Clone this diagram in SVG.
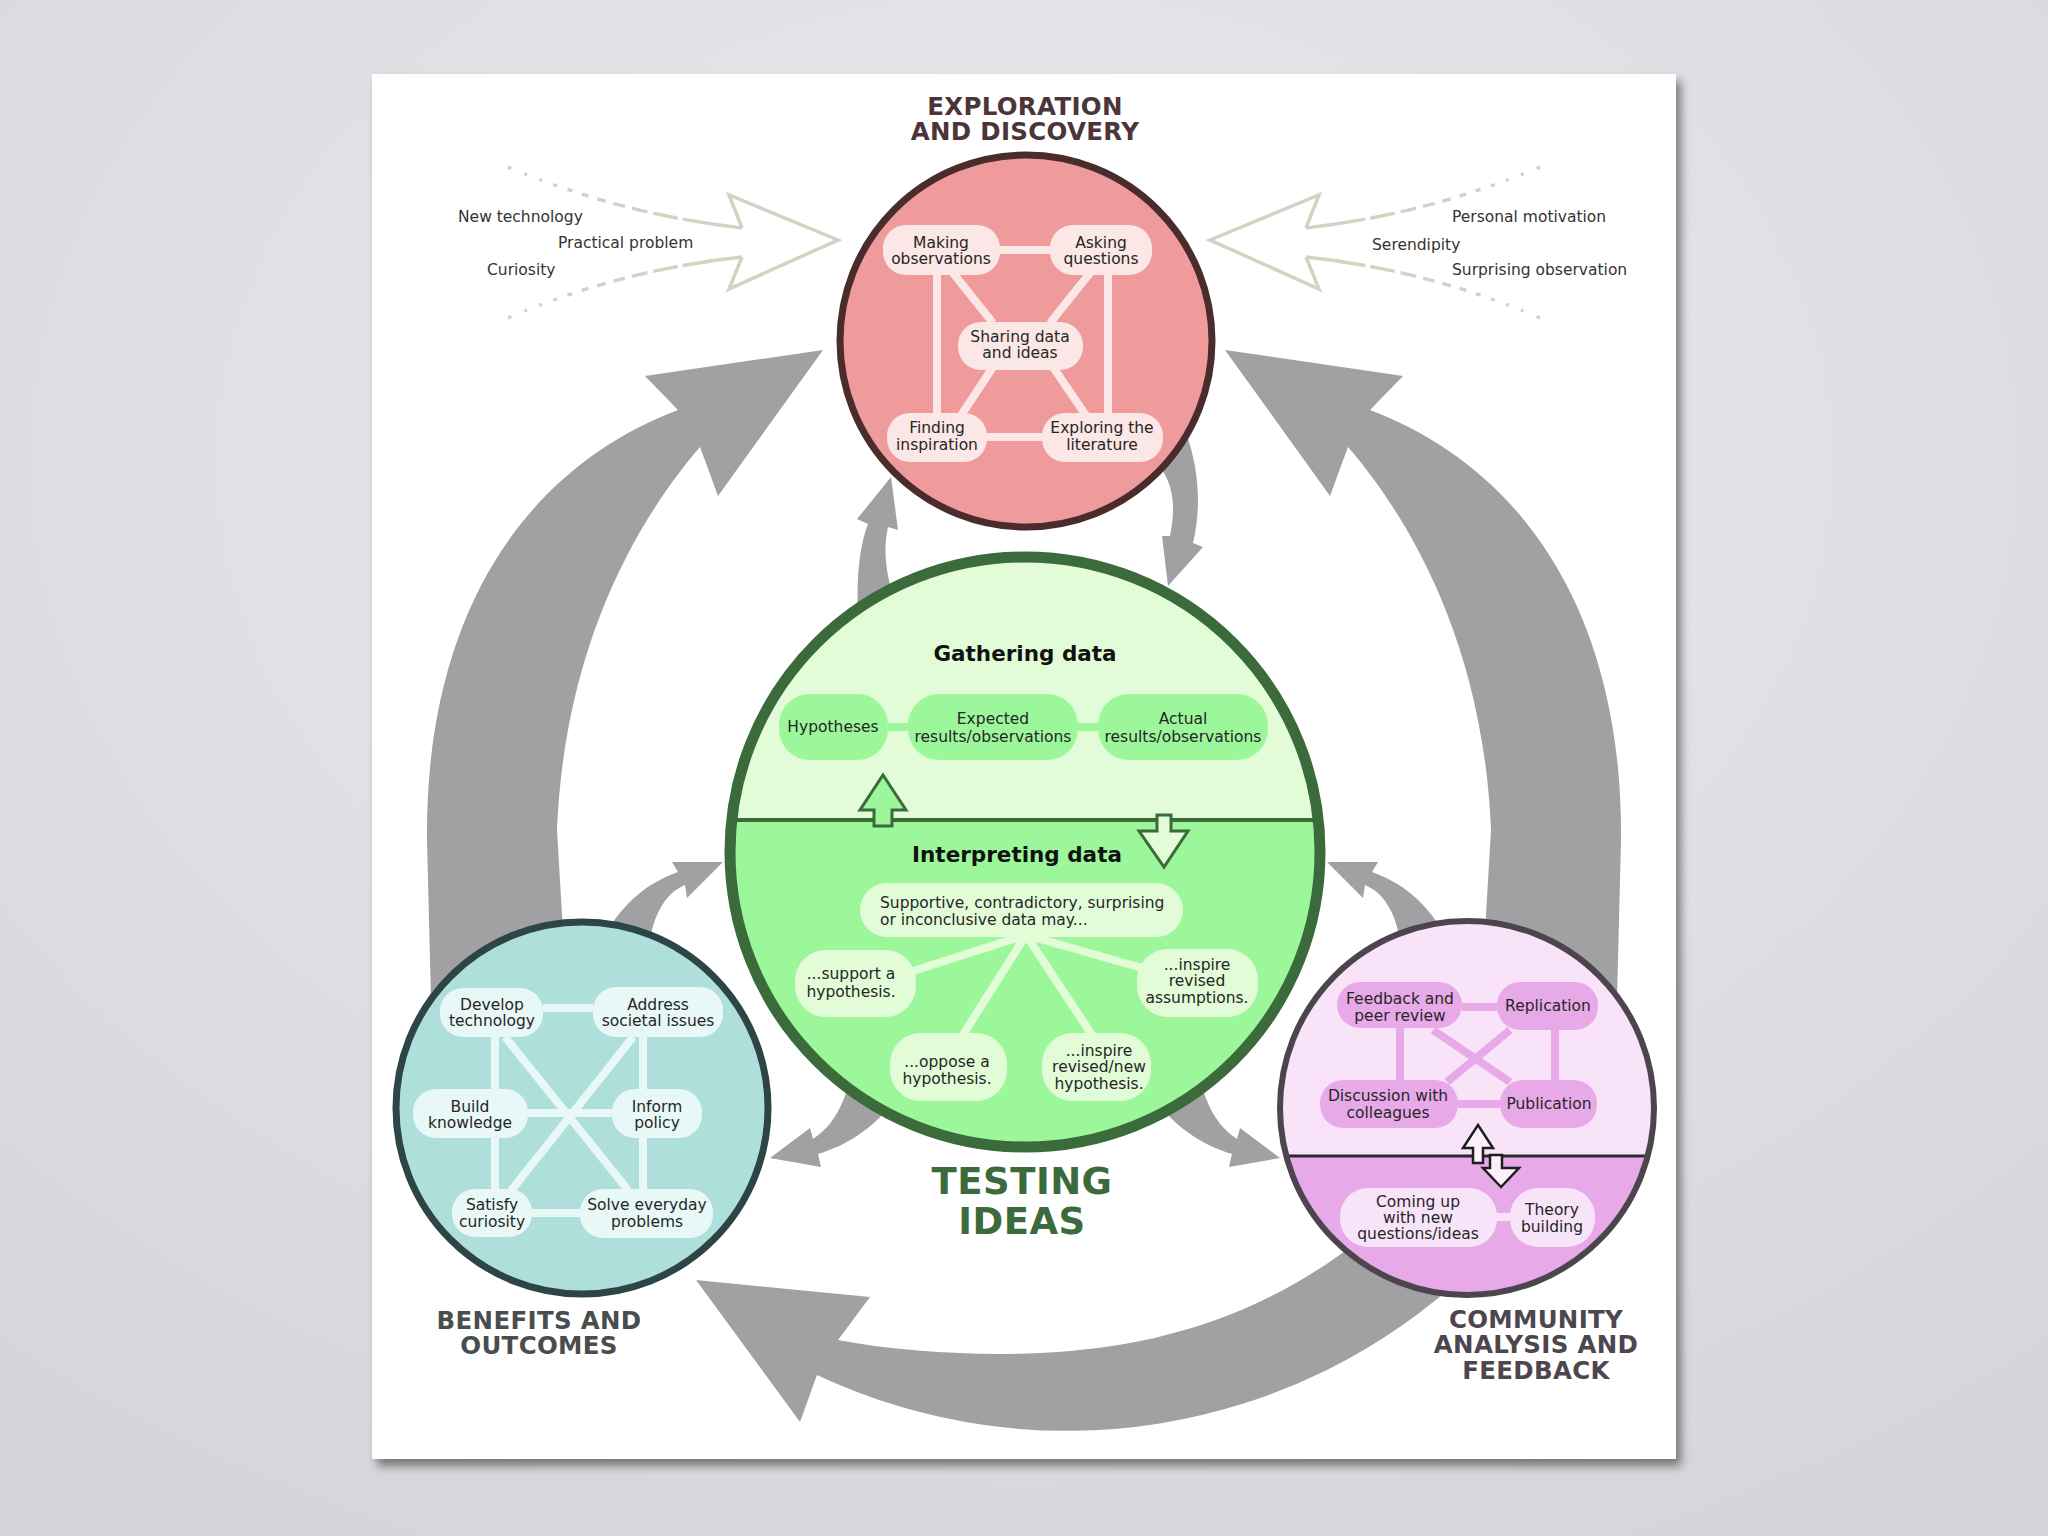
<svg xmlns="http://www.w3.org/2000/svg" width="2048" height="1536" viewBox="0 0 2048 1536">
<defs>
<style>
.t{font-family:"DejaVu Sans",Verdana,sans-serif;font-size:15.5px;fill:#262626;text-anchor:middle}
.tl{font-family:"DejaVu Sans",Verdana,sans-serif;font-size:15.5px;fill:#333;text-anchor:start}
.h{font-family:"DejaVu Sans",Verdana,sans-serif;font-weight:bold;font-size:24.5px;letter-spacing:0.3px;text-anchor:middle}
.sub{font-family:"DejaVu Sans",Verdana,sans-serif;font-weight:bold;font-size:21.5px;fill:#111;text-anchor:middle}
.big{fill:#a1a1a3}
.rp{fill:#fbe7e5}.rl{stroke:#fbe7e5;stroke-width:8;fill:none}
.gp{fill:#9cf79b}.gl{stroke:#9cf79b;stroke-width:8;fill:none}
.gq{fill:#e1fcd7}.gm{stroke:#e1fcd7;stroke-width:8;fill:none}
.tp{fill:#e8f8f6}.tlk{stroke:#e8f8f6;stroke-width:8;fill:none}
.pp{fill:#e8a9e9}.plk{stroke:#e8a9e9;stroke-width:8;fill:none}
.pq{fill:#f8e4f8}.pqk{stroke:#f8e4f8;stroke-width:8;fill:none}
.oa{fill:none;stroke:#d3d3c3;stroke-width:3.5;stroke-linejoin:miter}
</style>
<radialGradient id="bg" cx="50%" cy="30%" r="80%">
<stop offset="0" stop-color="#e9ebee"/><stop offset="1" stop-color="#d3d5d8"/>
</radialGradient>
<filter id="sh" x="-5%" y="-5%" width="110%" height="110%">
<feDropShadow dx="5" dy="7" stdDeviation="5" flood-color="#000" flood-opacity="0.45"/>
</filter>
<clipPath id="gclip"><circle cx="1025" cy="852" r="295"/></clipPath>
<clipPath id="pclip"><circle cx="1467" cy="1108" r="187"/></clipPath>
</defs>

<rect width="2048" height="1536" fill="url(#bg)"/>
<rect x="372" y="74" width="1304" height="1385" fill="#ffffff" filter="url(#sh)"/>

<g id="connectors">
<path class="big" d="M 432 1040 L 427 840 C 425 620 520 470 678 410 L 645 376 L 823 350 L 718 496 L 700 447 C 650 505 565 630 557 830 L 565 965 Z"/>
<path class="big" transform="translate(2048 0) scale(-1 1)" d="M 432 1040 L 427 840 C 425 620 520 470 678 410 L 645 376 L 823 350 L 718 496 L 700 447 C 650 505 565 630 557 830 L 565 965 Z"/>
<path class="big" d="M 1470 1270 A 586 586 0 0 1 817 1375 L 800 1422 L 696 1280 L 870 1297 L 838 1340 C 900 1352 980 1356 1040 1353 C 1140 1348 1250 1325 1360 1240 Z"/>
<path class="big" d="M 858 620 C 856 575 860 545 868 524 L 857 519 L 891 477 L 898 530 L 888 527 C 883 550 885 575 898 610 Z"/>
<path class="big" d="M 1150 455 C 1175 480 1176 505 1170 536 L 1162 536 L 1168 586 L 1203 547 L 1193 543 C 1201 510 1200 470 1185 430 Z"/>
<path class="big" d="M 605 935 C 625 900 650 882 678 872 L 672 862 L 723 862 L 687 898 L 685 885 C 668 892 655 910 650 940 Z"/>
<path class="big" transform="translate(2050 0) scale(-1 1)" d="M 605 935 C 625 900 650 882 678 872 L 672 862 L 723 862 L 687 898 L 685 885 C 668 892 655 910 650 940 Z"/>
<path class="big" d="M 850 1080 C 842 1110 830 1128 813 1139 L 810 1128 L 770 1158 L 821 1167 L 818 1154 C 845 1146 872 1130 895 1100 Z"/>
<path class="big" transform="translate(2050 0) scale(-1 1)" d="M 850 1080 C 842 1110 830 1128 813 1139 L 810 1128 L 770 1158 L 821 1167 L 818 1154 C 845 1146 872 1130 895 1100 Z"/>
<g id="inputs-left">
<path class="oa" d="M 742 228 L 729 195 L 838 240 L 729 289 L 742 257"/>
<path class="oa" d="M 742 228 Q 620 214 508 167" stroke-dasharray="60 5 25 6 16 7 12 8 9 9 7 10 5 11 4 12 3 13 3 14"/>
<path class="oa" d="M 742 257 Q 620 270 508 318" stroke-dasharray="60 5 25 6 16 7 12 8 9 9 7 10 5 11 4 12 3 13 3 14"/>
</g>
<g id="inputs-right" transform="translate(2048 0) scale(-1 1)">
<path class="oa" d="M 742 228 L 729 195 L 838 240 L 729 289 L 742 257"/>
<path class="oa" d="M 742 228 Q 620 214 508 167" stroke-dasharray="60 5 25 6 16 7 12 8 9 9 7 10 5 11 4 12 3 13 3 14"/>
<path class="oa" d="M 742 257 Q 620 270 508 318" stroke-dasharray="60 5 25 6 16 7 12 8 9 9 7 10 5 11 4 12 3 13 3 14"/>
</g>
</g>

<g id="input-labels">
<text class="tl" x="458" y="222">New technology</text>
<text class="tl" x="558" y="248">Practical problem</text>
<text class="tl" x="487" y="275">Curiosity</text>
<text class="tl" x="1452" y="222">Personal motivation</text>
<text class="tl" x="1372" y="250">Serendipity</text>
<text class="tl" x="1452" y="275">Surprising observation</text>
</g>

<g id="exploration">
<circle cx="1026" cy="341" r="186" fill="#ef9b9b" stroke="#4a2c2c" stroke-width="7"/>
<path class="rl" d="M1000 250H1050M937 275V413M1108 275V413M987 437H1042M953 273L993 323M1090 273L1050 323M993 367L960 417M1053 367L1087 417"/>
<rect class="rp" x="883" y="225" width="117" height="50" rx="23"/>
<rect class="rp" x="1050" y="225" width="102" height="50" rx="23"/>
<rect class="rp" x="958" y="322" width="125" height="48" rx="23"/>
<rect class="rp" x="887" y="413" width="100" height="49" rx="23"/>
<rect class="rp" x="1042" y="413" width="121" height="49" rx="23"/>
<text class="t" x="941" y="248">Making</text><text class="t" x="941" y="264">observations</text>
<text class="t" x="1101" y="248">Asking</text><text class="t" x="1101" y="264">questions</text>
<text class="t" x="1020" y="342">Sharing data</text><text class="t" x="1020" y="358">and ideas</text>
<text class="t" x="937" y="433">Finding</text><text class="t" x="937" y="450">inspiration</text>
<text class="t" x="1102" y="433">Exploring the</text><text class="t" x="1102" y="450">literature</text>
<text class="h" x="1025" y="115" fill="#4b3538">EXPLORATION</text>
<text class="h" x="1025" y="140" fill="#4b3538">AND DISCOVERY</text>
</g>

<g id="testing">
<g clip-path="url(#gclip)">
<rect x="720" y="550" width="610" height="270" fill="#e1fcd7"/>
<rect x="720" y="820" width="610" height="340" fill="#9cf79b"/>
<line x1="720" y1="820" x2="1330" y2="820" stroke="#3b6b3b" stroke-width="4"/>
</g>
<circle cx="1025" cy="852" r="295" fill="none" stroke="#3b6b3b" stroke-width="11"/>
<text class="sub" x="1025" y="661">Gathering data</text>
<path class="gl" d="M888 727H908M1078 727H1098"/>
<rect class="gp" x="779" y="694" width="109" height="66" rx="31"/>
<rect class="gp" x="908" y="694" width="170" height="66" rx="31"/>
<rect class="gp" x="1098" y="694" width="170" height="66" rx="31"/>
<text class="t" x="833" y="732">Hypotheses</text>
<text class="t" x="993" y="724">Expected</text><text class="t" x="993" y="742">results/observations</text>
<text class="t" x="1183" y="724">Actual</text><text class="t" x="1183" y="742">results/observations</text>
<path d="M883 775L906 810H892V826H874V810H860Z" fill="#9cf79b" stroke="#3b6b3b" stroke-width="3" stroke-linejoin="miter"/>
<path d="M1157 815H1171V831H1188L1164 867L1139 831H1157Z" fill="#e1fcd7" stroke="#3b6b3b" stroke-width="3" stroke-linejoin="miter"/>
<text class="sub" x="1017" y="862">Interpreting data</text>
<path class="gm" d="M1026 935L910 972M1026 935L961 1038M1026 935L1094 1038M1026 935L1142 968"/>
<rect class="gq" x="860" y="883" width="323" height="54" rx="27"/>
<rect class="gq" x="795" y="950" width="121" height="67" rx="31"/>
<rect class="gq" x="890" y="1033" width="117" height="68" rx="31"/>
<rect class="gq" x="1042" y="1033" width="109" height="68" rx="31"/>
<rect class="gq" x="1137" y="949" width="121" height="68" rx="31"/>
<text class="tl" x="880" y="908" style="fill:#262626">Supportive, contradictory, surprising</text>
<text class="tl" x="880" y="925" style="fill:#262626">or inconclusive data may...</text>
<text class="t" x="851" y="979">...support a</text><text class="t" x="851" y="997">hypothesis.</text>
<text class="t" x="947" y="1067">...oppose a</text><text class="t" x="947" y="1084">hypothesis.</text>
<text class="t" x="1099" y="1056">...inspire</text><text class="t" x="1099" y="1072">revised/new</text><text class="t" x="1099" y="1089">hypothesis.</text>
<text class="t" x="1197" y="970">...inspire</text><text class="t" x="1197" y="986">revised</text><text class="t" x="1197" y="1003">assumptions.</text>
<text class="h" x="1022" y="1194" fill="#3b6b3b" style="font-size:37px;letter-spacing:0.5px">TESTING</text>
<text class="h" x="1022" y="1234" fill="#3b6b3b" style="font-size:37px;letter-spacing:0.5px">IDEAS</text>
</g>

<g id="benefits">
<circle cx="582" cy="1108" r="186" fill="#afdfdb" stroke="#2e4545" stroke-width="7"/>
<path class="tlk" d="M543 1008H593M495 1037V1189M643 1037V1189M528 1113H612M532 1213H580M505 1037L628 1190M633 1037L510 1192"/>
<rect class="tp" x="440" y="988" width="103" height="49" rx="23"/>
<rect class="tp" x="593" y="987" width="130" height="50" rx="23"/>
<rect class="tp" x="413" y="1089" width="115" height="49" rx="23"/>
<rect class="tp" x="612" y="1089" width="90" height="49" rx="23"/>
<rect class="tp" x="452" y="1189" width="80" height="48" rx="23"/>
<rect class="tp" x="580" y="1189" width="133" height="49" rx="23"/>
<text class="t" x="492" y="1010">Develop</text><text class="t" x="492" y="1026">technology</text>
<text class="t" x="658" y="1010">Address</text><text class="t" x="658" y="1026">societal issues</text>
<text class="t" x="470" y="1112">Build</text><text class="t" x="470" y="1128">knowledge</text>
<text class="t" x="657" y="1112">Inform</text><text class="t" x="657" y="1128">policy</text>
<text class="t" x="492" y="1210">Satisfy</text><text class="t" x="492" y="1227">curiosity</text>
<text class="t" x="647" y="1210">Solve everyday</text><text class="t" x="647" y="1227">problems</text>
<text class="h" x="539" y="1329" fill="#4a4d4d">BENEFITS AND</text>
<text class="h" x="539" y="1354" fill="#4a4d4d">OUTCOMES</text>
</g>

<g id="community">
<g clip-path="url(#pclip)">
<rect x="1270" y="915" width="400" height="241" fill="#f8e3f8"/>
<rect x="1270" y="1156" width="400" height="150" fill="#e8a9e9"/>
<line x1="1270" y1="1156" x2="1670" y2="1156" stroke="#2a2a2a" stroke-width="3"/>
</g>
<circle cx="1467" cy="1108" r="187" fill="none" stroke="#4d454d" stroke-width="6"/>
<path class="plk" d="M1462 1007H1497M1400 1028V1080M1555 1030V1080M1458 1104H1500M1433 1030L1510 1082M1510 1030L1447 1082"/>
<rect class="pp" x="1337" y="982" width="125" height="46" rx="23"/>
<rect class="pp" x="1497" y="982" width="101" height="48" rx="23"/>
<rect class="pp" x="1320" y="1080" width="138" height="48" rx="23"/>
<rect class="pp" x="1500" y="1080" width="97" height="48" rx="23"/>
<text class="t" x="1400" y="1004">Feedback and</text><text class="t" x="1400" y="1021">peer review</text>
<text class="t" x="1548" y="1011">Replication</text>
<text class="t" x="1388" y="1101">Discussion with</text><text class="t" x="1388" y="1118">colleagues</text>
<text class="t" x="1549" y="1109">Publication</text>
<path class="pqk" d="M1497 1217H1510"/>
<rect class="pq" x="1340" y="1188" width="157" height="59" rx="28"/>
<rect class="pq" x="1510" y="1188" width="85" height="59" rx="28"/>
<text class="t" x="1418" y="1207">Coming up</text><text class="t" x="1418" y="1223">with new</text><text class="t" x="1418" y="1239">questions/ideas</text>
<text class="t" x="1552" y="1215">Theory</text><text class="t" x="1552" y="1232">building</text>
<path d="M1478 1125L1493 1148H1483V1163H1473V1148H1463Z" fill="#fbf0fb" stroke="#1e1e1e" stroke-width="2.5"/>
<path d="M1490 1155H1502V1168H1519L1501 1187L1483 1168H1490Z" fill="#fbf0fb" stroke="#1e1e1e" stroke-width="2.5"/>
<text class="h" x="1536" y="1328" fill="#4d474d">COMMUNITY</text>
<text class="h" x="1536" y="1353" fill="#4d474d">ANALYSIS AND</text>
<text class="h" x="1536" y="1379" fill="#4d474d">FEEDBACK</text>
</g>
</svg>
